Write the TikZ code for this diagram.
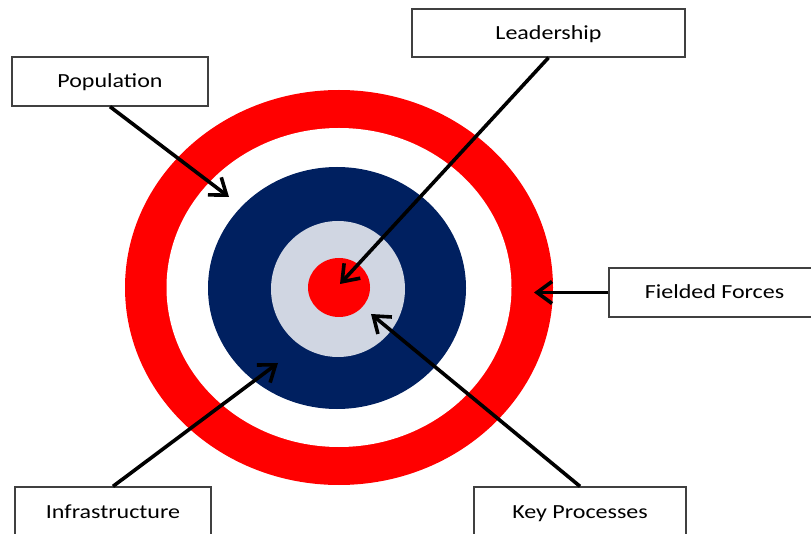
\documentclass[tikz,border=0pt]{standalone}
\usepackage{fontspec}
\setmainfont{Carlito}[FakeStretch=1.2]
\usetikzlibrary{arrows.meta}
\definecolor{ringred}{RGB}{255,0,0}
\definecolor{ringnavy}{RGB}{0,32,96}
\definecolor{ringgrey}{RGB}{208,214,226}
\definecolor{boxline}{RGB}{64,64,64}
\tikzset{%
  tag/.style={draw=boxline,line width=1.3pt,fill=white,font=\fontsize{20}{24}\selectfont,
    text height=13pt,text depth=0pt,inner sep=0pt},
  pointer/.style={line width=3.6pt,-{Straight Barb[length=15pt,width=22pt]}}
}
\begin{document}
\begin{tikzpicture}[x=1pt,y=-1pt]
  \useasboundingbox (0,0) rectangle (811,534);

  % target
  \fill[ringred]   (339,287.5) ellipse [x radius=214, y radius=197.5];
  \fill[white]     (339,287.5) ellipse [x radius=172.5, y radius=159.5];
  \fill[ringnavy]  (337,288)   ellipse [x radius=129, y radius=121];
  \fill[ringgrey]  (338,289)   ellipse [x radius=67, y radius=68];
  \fill[ringred]   (339,287.5) ellipse [x radius=31, y radius=29.5];

  % labels
  \node[tag,minimum width=196pt,minimum height=49pt] (pop)   at (110,81.5)  {Population};
  \node[tag,minimum width=273pt,minimum height=48pt] (lead)  at (548.5,33)  {Leadership};
  \node[tag,minimum width=211pt,minimum height=49pt] (field) at (714.5,292.5) {Fielded Forces};
  \node[tag,minimum width=196pt,minimum height=50pt] (infra) at (113,512)   {Infrastructure};
  \node[tag,minimum width=212pt,minimum height=50pt] (proc)  at (580,512)   {Key Processes};

  % where the arrows hit
  \coordinate (popend)   at (229,197);
  \coordinate (leadend)  at (340,284);
  \coordinate (fieldend) at (534,292.5);
  \coordinate (infraend) at (278,363);
  \coordinate (procend)  at (371,314);

  \draw[pointer] (pop.south)   -- (popend);
  \draw[pointer] (lead.south)  -- (leadend);
  \draw[pointer] (field.west)  -- (fieldend);
  \draw[pointer] (infra.north) -- (infraend);
  \draw[pointer] (proc.north)  -- (procend);
\end{tikzpicture}
\end{document}
